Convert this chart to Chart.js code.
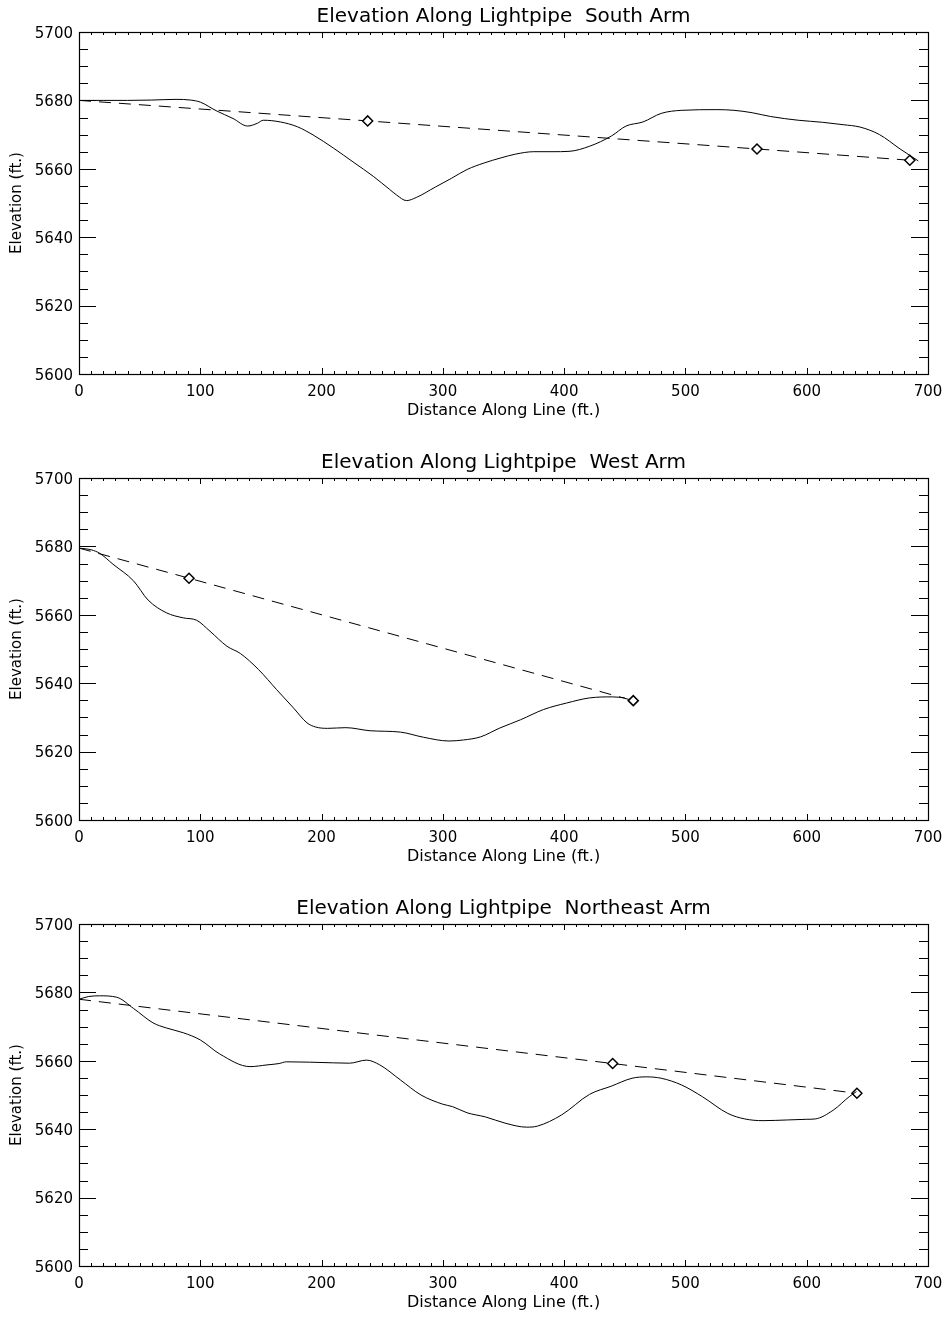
<!DOCTYPE html>
<html>
<head>
<meta charset="utf-8">
<title>Elevation Along Lightpipe</title>
<script src="https://cdn.jsdelivr.net/npm/chart.js@4.4.0/dist/chart.umd.min.js"></script>
<style>
  body { margin: 0; background: #fff; overflow: hidden; }
  .panel { width: 949px; height: 446px; }
</style>
</head>
<body>
<div class="panel"><canvas id="southChart" width="949" height="446"></canvas></div>
<div class="panel"><canvas id="westChart" width="949" height="446"></canvas></div>
<div class="panel"><canvas id="northeastChart" width="949" height="446"></canvas></div>
<script>
// ground profile along each arm (distance ft, elevation ft)
const southDist = [0, 20, 40, 60, 80, 92, 100, 113, 127, 139, 147, 152, 166, 180, 193, 210, 226, 243, 256, 262, 270, 278, 294, 307, 320, 334, 348, 360, 375, 390, 404, 421, 439, 451, 465, 480, 497, 526, 540, 555, 570, 593, 613, 630, 644, 660, 677, 692];
const southElev = [5680, 5680, 5680, 5680.1, 5680.3, 5680.1, 5679.5, 5677.0, 5674.7, 5672.5, 5673.3, 5674.2, 5673.7, 5672.3, 5669.9, 5666.0, 5662.0, 5657.7, 5654.0, 5652.3, 5650.7, 5651.6, 5654.7, 5657.2, 5659.8, 5661.7, 5663.2, 5664.3, 5665.0, 5665.0, 5665.1, 5666.6, 5669.6, 5672.5, 5673.7, 5676.2, 5677.1, 5677.3, 5677.1, 5676.4, 5675.3, 5674.2, 5673.6, 5672.9, 5672.2, 5670.0, 5665.8, 5662.3];
// pipe line (first point has no marker)
const southPipeDist = [0, 238, 559, 685];
const southPipeElev = [5680, 5674.0, 5665.8, 5662.5];

const westDist = [0, 10, 17, 28, 45, 57, 72, 86, 97, 108, 122, 133, 148, 163, 177, 188, 195, 205, 220, 240, 265, 284, 305, 317, 331, 347, 364, 383, 402, 421, 440, 450];
const westElev = [5679.5, 5679.0, 5678.0, 5674.8, 5669.9, 5664.3, 5660.6, 5659.1, 5658.4, 5655.2, 5650.8, 5648.7, 5644.0, 5638.1, 5632.7, 5628.4, 5627.2, 5626.8, 5627.0, 5626.1, 5625.7, 5624.2, 5623.1, 5623.4, 5624.3, 5626.9, 5629.3, 5632.3, 5634.2, 5635.7, 5636.0, 5635.7];
const westPipeDist = [0, 90.7, 457];
const westPipeElev = [5679.5, 5670.7, 5634.9];

const northeastDist = [0, 8, 17, 31, 45, 61, 72, 86, 100, 116, 141, 155, 165, 171, 190, 210, 223, 237, 248, 265, 282, 300, 308, 320, 335, 352, 369, 378, 398, 421, 439, 456, 468, 480, 497, 514, 535, 549, 564, 584, 600, 607, 622, 635, 641];
const northeastElev = [5678.0, 5678.8, 5679.0, 5678.6, 5675.3, 5671.1, 5669.6, 5668.2, 5666.1, 5662.0, 5658.3, 5658.8, 5659.2, 5659.7, 5659.6, 5659.4, 5659.3, 5660.2, 5658.8, 5654.4, 5650.0, 5647.3, 5646.6, 5644.8, 5643.6, 5641.7, 5640.6, 5640.9, 5644.2, 5650.2, 5652.6, 5654.9, 5655.3, 5654.9, 5652.9, 5649.5, 5644.6, 5643.0, 5642.5, 5642.7, 5642.9, 5643.0, 5645.6, 5649.5, 5651.0];
const northeastPipeDist = [0, 440, 641.4];
const northeastPipeElev = [5678.0, 5659.2, 5650.5];

// axis ranges / ticks
const distTicks = [0, 100, 200, 300, 400, 500, 600, 700];
const elevTicks = [5600, 5620, 5640, 5660, 5680, 5700];

const FONT = 'DejaVu Sans';

// box round the plot with IDL style inward ticks on all four sides
const frameTicks = {
    id: 'frameTicks',
    afterDraw(chart) {
        const { ctx, chartArea: a, scales: { x, y } } = chart;
        ctx.save();
        ctx.strokeStyle = '#000';
        ctx.lineWidth = 1;
        ctx.beginPath();
        for (let v = distTicks[0]; v <= distTicks[distTicks.length - 1]; v += 10) {
            const px = Math.round(x.getPixelForValue(v)) + 0.5;
            const len = v % 100 === 0 ? 6 : 3;
            ctx.moveTo(px, a.bottom); ctx.lineTo(px, a.bottom - len);
            ctx.moveTo(px, a.top); ctx.lineTo(px, a.top + len);
        }
        for (let v = elevTicks[0]; v <= elevTicks[elevTicks.length - 1]; v += 5) {
            const py = Math.round(y.getPixelForValue(v)) + 0.5;
            const len = (v - elevTicks[0]) % 20 === 0 ? 17 : 9;
            ctx.moveTo(a.left, py); ctx.lineTo(a.left + len, py);
            ctx.moveTo(a.right, py); ctx.lineTo(a.right - len, py);
        }
        ctx.stroke();
        ctx.lineWidth = 1.2;
        ctx.strokeRect(Math.round(a.left) + 0.5, Math.round(a.top) + 0.5, Math.round(a.width), Math.round(a.height));
        ctx.restore();
    }
};

function toPoints(xs, ys) {
    return xs.map((v, i) => ({ x: v, y: ys[i] }));
}

function makeChart(id, arm, dist, elev, pipeDist, pipeElev) {
    const ctx = document.getElementById(id).getContext('2d');
    return new Chart(ctx, {
        type: 'scatter',
        data: {
            datasets: [{
                label: 'Ground',
                data: toPoints(dist, elev),
                showLine: true,
                borderColor: '#000',
                borderWidth: 1,
                pointRadius: 0,
                cubicInterpolationMode: 'monotone'
            }, {
                label: 'Pipe',
                data: toPoints(pipeDist, pipeElev),
                showLine: true,
                borderColor: '#000',
                borderWidth: 1,
                borderDash: [12, 8],
                pointStyle: 'rectRot',
                pointRadius: pipeDist.map((d, i) => i === 0 ? 0 : 5),
                pointBackgroundColor: '#fff',
                pointBorderColor: '#000',
                pointBorderWidth: 1.5,
                tension: 0
            }]
        },
        options: {
            responsive: false,
            animation: false,
            layout: { padding: { left: 0, right: 21, top: 0, bottom: 0 } },
            plugins: {
                legend: { display: false },
                tooltip: { enabled: false },
                title: {
                    display: true,
                    fullSize: false,
                    text: 'Elevation Along Lightpipe  ' + arm,
                    color: '#000',
                    font: { family: FONT, size: 20, weight: 'normal' },
                    padding: { top: 5, bottom: 3 }
                }
            },
            scales: {
                x: {
                    type: 'linear',
                    min: distTicks[0],
                    max: distTicks[distTicks.length - 1],
                    afterBuildTicks: (s) => { s.ticks = distTicks.map(v => ({ value: v })); },
                    afterFit: (s) => { s.height = 72; },
                    grid: { display: false, drawTicks: false },
                    border: { display: false },
                    ticks: {
                        color: '#000', padding: 3, maxRotation: 0,
                        font: { family: FONT, size: 15, lineHeight: 2 },
                        callback: (v) => String(v)
                    },
                    title: {
                        display: true,
                        text: 'Distance Along Line (ft.)',
                        color: '#000',
                        font: { family: FONT, size: 16 },
                        padding: { top: 0, bottom: 26 }
                    }
                },
                y: {
                    type: 'linear',
                    min: elevTicks[0],
                    max: elevTicks[elevTicks.length - 1],
                    afterBuildTicks: (s) => { s.ticks = elevTicks.map(v => ({ value: v })); },
                    afterFit: (s) => { s.width = 79; },
                    grid: { display: false, drawTicks: false },
                    border: { display: false },
                    ticks: {
                        color: '#000', padding: 6, labelOffset: 2,
                        font: { family: FONT, size: 15 },
                        callback: (v) => String(v)
                    },
                    title: {
                        display: true,
                        text: 'Elevation (ft.)',
                        color: '#000',
                        font: { family: FONT, size: 15 },
                        padding: { top: 8, bottom: 0 }
                    }
                }
            }
        },
        plugins: [frameTicks]
    });
}

makeChart('southChart', 'South Arm', southDist, southElev, southPipeDist, southPipeElev);
makeChart('westChart', 'West Arm', westDist, westElev, westPipeDist, westPipeElev);
makeChart('northeastChart', 'Northeast Arm', northeastDist, northeastElev, northeastPipeDist, northeastPipeElev);
</script>
</body>
</html>
